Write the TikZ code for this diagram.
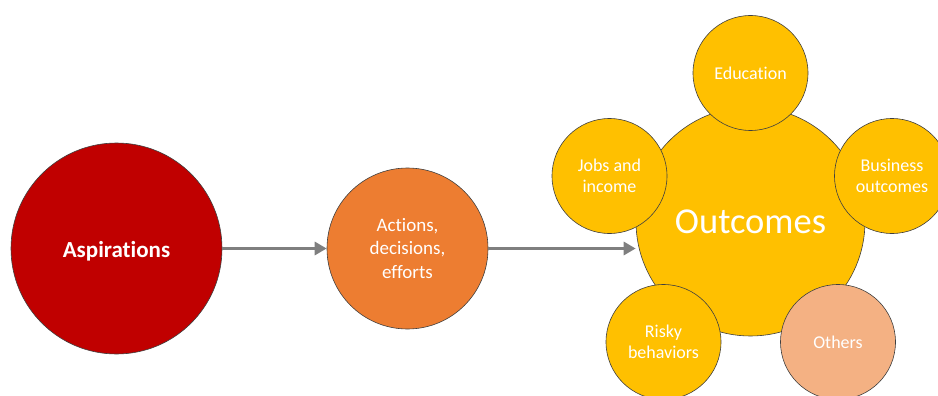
\documentclass[tikz,border=0pt]{standalone}
\usepackage{fontspec}
\setmainfont{Carlito}[Ligatures=NoCommon]
\usetikzlibrary{arrows.meta}
\definecolor{aspred}{HTML}{C00000}
\definecolor{actorange}{HTML}{ED7D31}
\definecolor{outyellow}{HTML}{FFC000}
\definecolor{otherpeach}{HTML}{F4B183}
\definecolor{rimgray}{HTML}{3F3F3F}
\definecolor{flowgray}{HTML}{7F7F7F}
\begin{document}
\begin{tikzpicture}[x=1pt,y=-1pt,
  bubble/.style={circle, draw=rimgray, line width=0.6pt, inner sep=0pt,
    text=white, align=center},
  small/.style={bubble, fill=outyellow, minimum size=115pt,
    font=\fontsize{18}{21}\selectfont},
  flow/.style={draw=flowgray, line width=3.2pt,
    -{Triangle[length=12pt,width=13pt]}}]
\useasboundingbox (0,0) rectangle (938,396);
\clip (0,0) rectangle (938,396);

% driver and intermediate step
\node[bubble, fill=aspred, minimum size=211pt, text height=21pt,
  font=\fontsize{23}{28}\selectfont\bfseries] (asp) at (116.5,248.5) {Aspirations};
\node[bubble, fill=actorange, minimum size=161pt,
  font=\fontsize{19}{23.3}\selectfont] (act) at (407.5,248.5) {Actions,\\decisions,\\efforts};

% outcome cluster: central circle, satellites on top
\node[bubble, fill=outyellow, minimum size=229pt,
  font=\fontsize{36.5}{40}\selectfont] (out) at (750.5,221.5) {Outcomes};
\node[small] (edu) at (750.5,73) {Education};
\node[small] (jobs) at (609.5,176) {Jobs and\\income};
\node[small] (biz) at (892,176) {Business\\outcomes};
\node[small] (risk) at (663.5,342) {Risky\\behaviors};
\node[small, fill=otherpeach] (oth) at (838,342) {Others};

% connectors
\draw[flow] (asp) -- (act);
\draw[flow] (act.east) -- (act.east -| out.west);
\end{tikzpicture}
\end{document}
